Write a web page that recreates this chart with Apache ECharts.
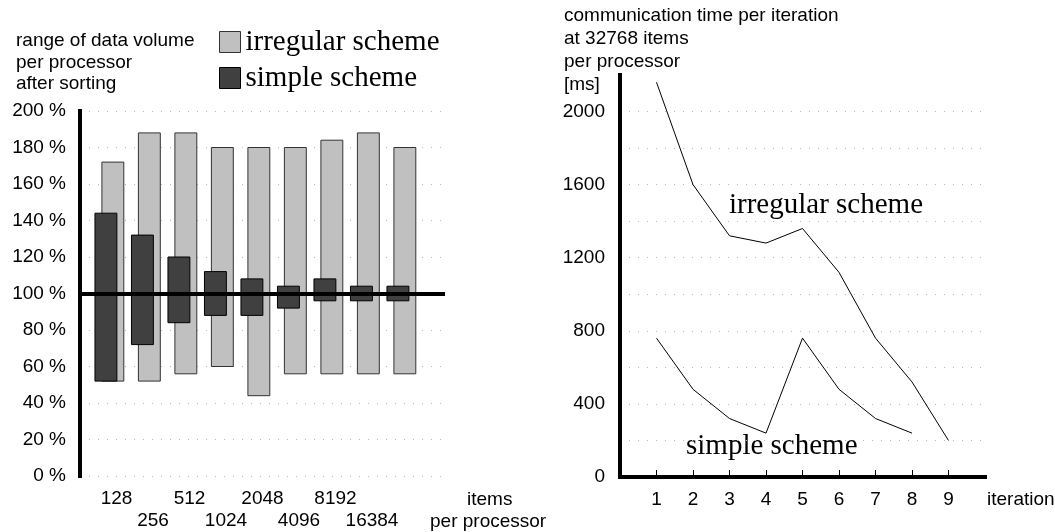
<!DOCTYPE html>
<html>
<head>
<meta charset="utf-8">
<script src="https://cdn.jsdelivr.net/npm/echarts@6/dist/echarts.min.js"></script>
<style>
  html, body { margin: 0; padding: 0; background: #fff; }
  #chart { width: 1055px; height: 532px; }
</style>
</head>
<body>
<div id="chart"></div>
<script>
// Left panel: spread of data volume per processor after sorting (percent of the mean)
const sizes = ['128', '256', '512', '1024', '2048', '4096', '8192', '16384', '32768'];
const irregularLow  = [52, 52, 56, 60, 44, 56, 56, 56, 56];
const irregularHigh = [172, 188, 188, 180, 180, 180, 184, 188, 180];
const simpleLow     = [52, 72, 84, 88, 88, 92, 96, 96, 96];
const simpleHigh    = [144, 132, 120, 112, 108, 104, 108, 104, 104];
const baseline = 100;

// Right panel: communication time per iteration at 32768 items per processor [ms]
const iterations    = [1, 2, 3, 4, 5, 6, 7, 8, 9];
const irregularTime = [2160, 1600, 1320, 1280, 1360, 1120, 760, 520, 200];
const simpleTime    = [760, 480, 320, 240, 760, 480, 320, 240];

const SANS = 'Liberation Sans, Arial, Helvetica, sans-serif';
const SERIF = 'Liberation Serif, Times New Roman, serif';
const LIGHT = '#c0c0c0';
const DARK = '#404040';

const slots = sizes.map((_, i) => i + 1);
const rangeData = (lo, hi) => lo.map((v, i) => [i + 1, v, hi[i]]);

// a floating bar from low to high, shifted left inside its slot
function rangeBar(shift, fill, stroke) {
  return function (params, api) {
    const x = api.value(0);
    const top = api.coord([x, api.value(2)]);
    const bot = api.coord([x, api.value(1)]);
    const slot = api.size([1, 0])[0];
    const w = slot * 0.6;
    const cx = top[0] + shift * slot;
    return {
      type: 'rect',
      shape: { x: cx - w / 2, y: top[1], width: w, height: bot[1] - top[1] },
      style: { fill: fill, stroke: stroke, lineWidth: 1 }
    };
  };
}

const gridDots = { show: true, lineStyle: { color: '#b8b8b8', width: 1, type: [1, 8] } };
const thick = { show: true, lineStyle: { color: '#000', width: 4, cap: 'square' } };

const chart = echarts.init(document.getElementById('chart'), null, { renderer: 'canvas' });
chart.setOption({
  animation: false,
  backgroundColor: '#fff',
  textStyle: { fontFamily: SANS, color: '#000' },
  legend: {
    left: 219, top: 27, orient: 'vertical', padding: 0,
    icon: 'rect', itemWidth: 21, itemHeight: 21, itemGap: 6,
    selectedMode: false,
    textStyle: { fontFamily: SERIF, fontSize: 29, lineHeight: 30, color: '#000' },
    data: [
      { name: 'irregular scheme', itemStyle: { color: LIGHT, borderColor: '#333', borderWidth: 1 } },
      { name: 'simple scheme', itemStyle: { color: DARK, borderColor: '#000', borderWidth: 1 } }
    ]
  },
  grid: [
    { left: 80, top: 111, width: 365, height: 365 },
    { left: 620, top: 75, width: 365, height: 402 }
  ],
  xAxis: [
    {
      gridIndex: 0, type: 'value', min: 0, max: 10, interval: 1,
      axisLine: { show: false }, axisTick: { show: false }, splitLine: { show: false },
      axisLabel: {
        customValues: slots, margin: 12, fontSize: 19, lineHeight: 22, color: '#000',
        formatter: v => (v % 2 === 0 ? '\n' : '') + sizes[v - 1]
      }
    },
    {
      gridIndex: 1, type: 'value', min: 0, max: 10, interval: 1,
      axisLine: thick,
      axisTick: { show: true, customValues: iterations, inside: true, length: 7, lineStyle: { color: '#000', width: 1 } },
      splitLine: { show: false },
      axisLabel: { customValues: iterations, margin: 13, fontSize: 19, color: '#000' }
    }
  ],
  yAxis: [
    {
      gridIndex: 0, type: 'value', min: 0, max: 200, interval: 20,
      axisLine: thick, axisTick: { show: false }, splitLine: gridDots,
      axisLabel: { margin: 14, fontSize: 19, color: '#000', formatter: v => v + ' %' }
    },
    {
      gridIndex: 1, type: 'value', min: 0, max: 2200, interval: 200,
      axisLine: thick, axisTick: { show: false },
      splitLine: Object.assign({ showMaxLine: false }, gridDots),
      axisLabel: {
        margin: 15, fontSize: 19, color: '#000',
        formatter: v => (v % 400 === 0 && v < 2200 ? String(v) : '')
      }
    }
  ],
  series: [
    {
      name: 'irregular scheme', type: 'custom', xAxisIndex: 0, yAxisIndex: 0, z: 2,
      itemStyle: { color: LIGHT },
      renderItem: rangeBar(-0.1, LIGHT, '#333'),
      data: rangeData(irregularLow, irregularHigh)
    },
    {
      name: 'simple scheme', type: 'custom', xAxisIndex: 0, yAxisIndex: 0, z: 3,
      itemStyle: { color: DARK },
      renderItem: rangeBar(-0.29, DARK, '#000'),
      data: rangeData(simpleLow, simpleHigh),
      markLine: {
        silent: true, symbol: 'none', z: 10,
        label: { show: false },
        lineStyle: { color: '#000', width: 4, type: 'solid' },
        data: [{ yAxis: baseline }]
      }
    },
    {
      name: 'irregular time', type: 'line', xAxisIndex: 1, yAxisIndex: 1,
      symbol: 'none', lineStyle: { color: '#000', width: 1 },
      data: irregularTime.map((v, i) => [iterations[i], v])
    },
    {
      name: 'simple time', type: 'line', xAxisIndex: 1, yAxisIndex: 1,
      symbol: 'none', lineStyle: { color: '#000', width: 1 },
      data: simpleTime.map((v, i) => [iterations[i], v])
    }
  ],
  graphic: [
    {
      type: 'text', x: 16, y: 30,
      style: { text: 'range of data volume\nper processor\nafter sorting', font: '19px ' + SANS, lineHeight: 21.7, fill: '#000', verticalAlign: 'top' }
    },
    {
      type: 'text', x: 564, y: 4,
      style: { text: 'communication time per iteration\nat 32768 items\nper processor\n[ms]', font: '19px ' + SANS, lineHeight: 23, fill: '#000', verticalAlign: 'top' }
    },
    { type: 'text', x: 467, y: 500, style: { text: 'items', font: '19px ' + SANS, fill: '#000', verticalAlign: 'middle' } },
    { type: 'text', x: 430, y: 522, style: { text: 'per processor', font: '19px ' + SANS, fill: '#000', verticalAlign: 'middle' } },
    { type: 'text', x: 987, y: 500, style: { text: 'iteration', font: '19px ' + SANS, fill: '#000', verticalAlign: 'middle' } },
    { type: 'text', x: 729, y: 205, style: { text: 'irregular scheme', font: '29px ' + SERIF, fill: '#000', verticalAlign: 'middle' } },
    { type: 'text', x: 686, y: 446, style: { text: 'simple scheme', font: '29px ' + SERIF, fill: '#000', verticalAlign: 'middle' } }
  ]
});
</script>
</body>
</html>
